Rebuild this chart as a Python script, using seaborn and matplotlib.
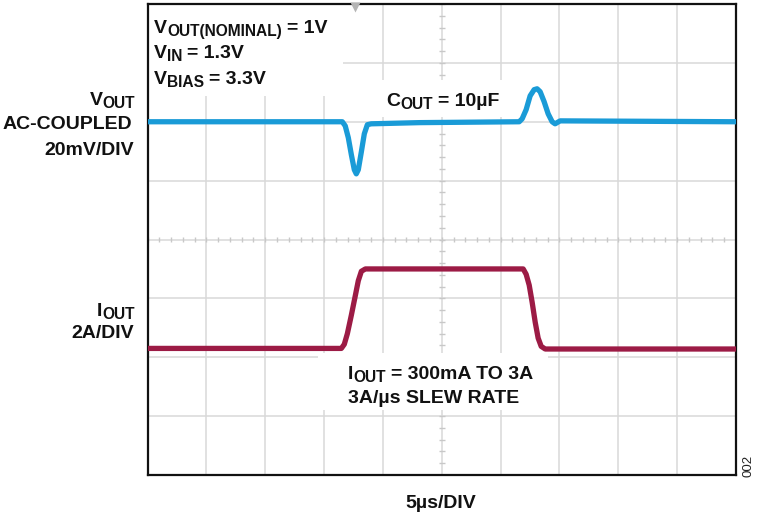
import numpy as np
import pandas as pd
import matplotlib
matplotlib.use("Agg")
import matplotlib.pyplot as plt
import matplotlib.transforms as mtransforms
from matplotlib.patches import Rectangle
import seaborn as sns

# ---------------- data ----------------
# V_OUT, AC coupled, in mV vs time in microseconds
vout_t_us = [-25.0, -8.45, -8.20, -7.94, -7.68, -7.43, -7.26, -7.09, -6.83, -6.58,
             -6.32, -5.99, -1.91, 6.58, 6.83, 7.17, 7.51, 7.85, 8.10, 8.36,
             8.70, 9.04, 9.38, 9.63, 10.06, 25.0]
vout_mv = [0.0, 0.0, -1.4, -5.4, -11.2, -16.3, -17.7, -16.3, -10.2, -4.1,
           -1.0, -0.7, -0.3, 0.0, 1.0, 4.1, 8.8, 10.9, 11.2, 10.2,
           6.8, 2.7, 0.0, -0.7, 0.3, 0.0]
# I_OUT in A vs time in microseconds
iout_t_us = [-25.0, -8.53, -8.28, -8.02, -7.68, -7.34, -7.09, -6.83, -6.49, -1.06,
             6.92, 7.17, 7.43, 7.68, 7.94, 8.19, 8.45, 8.79, 25.0]
iout_a = [0.30, 0.30, 0.44, 0.80, 1.43, 2.10, 2.60, 2.92, 3.00, 3.00,
          3.00, 2.82, 2.45, 1.87, 1.19, 0.65, 0.37, 0.28, 0.28]
trigger_t_us = -7.4

# scope settings
T_PER_DIV_US = 5
V_PER_DIV_MV = 20
I_PER_DIV_A = 2
V_ZERO_DIV = 6
I_ZERO_DIV = 2
N_XDIV, N_YDIV = 10, 8

BLUE = "#1a9bd7"
RED = "#9c1b45"

W, H = 760, 518

sns.set_theme(style="white")
plt.rcParams["font.family"] = ["Liberation Sans", "DejaVu Sans"]

fig = plt.figure(figsize=(W / 100, H / 100), dpi=100)
L, R, T, B = 147.5, 736.0, 4.0, 475.0
ax = fig.add_axes([L / W, (H - B) / H, (R - L) / W, (B - T) / H])

xmin = -N_XDIV / 2 * T_PER_DIV_US
xmax = N_XDIV / 2 * T_PER_DIV_US
ax.set_xlim(xmin, xmax)
ax.set_ylim(0, N_YDIV)

# grid
ax.set_xticks(np.arange(xmin, xmax + 0.1, T_PER_DIV_US))
ax.set_yticks(np.arange(0, N_YDIV + 1, 1))
ax.grid(True, color="#d9d9d9", lw=1.1, zorder=0)
ax.set_axisbelow(True)
ax.tick_params(length=0, labelbottom=False, labelleft=False)
for sp in ax.spines.values():
    sp.set_color("#111111")
    sp.set_linewidth(1.6)

# center-line minor ticks (0.2 div)
xs = np.arange(xmin, xmax + 0.01, T_PER_DIV_US / 5)
ax.vlines(xs, N_YDIV / 2 - 0.05, N_YDIV / 2 + 0.05, color="#c8c8c8", lw=1.0, zorder=1)
ys = np.arange(0, N_YDIV + 0.01, 0.2)
ax.hlines(ys, -0.26, 0.26, color="#c8c8c8", lw=1.0, zorder=1)

# white annotation backgrounds (data coords)
def px2t(px):
    return (px - L) / (R - L) * (xmax - xmin) + xmin

def py2d(py):
    return (B - py) / (B - T) * N_YDIV

for (x0, y0, x1, y1) in [(148, 4, 343, 96), (378, 80, 510, 117), (318, 353, 548, 410)]:
    ax.add_patch(Rectangle((px2t(x0), py2d(y1)), px2t(x1) - px2t(x0), py2d(y0) - py2d(y1),
                           facecolor="white", edgecolor="none", zorder=2))

# traces
df_v = pd.DataFrame({"t": vout_t_us, "div": V_ZERO_DIV + np.array(vout_mv) / V_PER_DIV_MV})
df_i = pd.DataFrame({"t": iout_t_us, "div": I_ZERO_DIV + np.array(iout_a) / I_PER_DIV_A})
sns.lineplot(data=df_v, x="t", y="div", ax=ax, color=BLUE, lw=3.8, sort=False,
             estimator=None, zorder=5)
sns.lineplot(data=df_i, x="t", y="div", ax=ax, color=RED, lw=3.8, sort=False,
             estimator=None, zorder=5)
ax.set_xlabel("")
ax.set_ylabel("")

# trigger marker
ax.plot([trigger_t_us], [N_YDIV - 0.045], marker="v", ms=7, color="#b5b5b5",
        mec="none", clip_on=False, zorder=6)

# ---------------- rich text helper ----------------
renderer = fig.canvas.get_renderer()
MAIN = 14
SUB = 11.2
SUBDY = 3
GAP = 5


def rich(x, yb, parts, ha="left", color="#111111"):
    arts = []
    cur = x
    for s, size, dy, gap in parts:
        cur += gap
        t = fig.text(cur, H - (yb + dy), s, transform=mtransforms.IdentityTransform(),
                     fontsize=size, fontweight="bold", ha="left", va="baseline",
                     color=color, zorder=10)
        w = t.get_window_extent(renderer).width
        arts.append(t)
        cur += w
    total = cur - x
    shift = {"left": 0, "right": total, "center": total / 2}[ha]
    for t in arts:
        px, py = t.get_position()
        t.set_position((px - shift, py))


# top-left conditions
rich(154, 33, [("V", MAIN, 0, 0), ("OUT(NOMINAL)", SUB, SUBDY, 0), ("= 1V", MAIN, 0, GAP)])
rich(154, 58, [("V", MAIN, 0, 0), ("IN", SUB, SUBDY, 0), ("= 1.3V", MAIN, 0, GAP)])
rich(154, 84, [("V", MAIN, 0, 0), ("BIAS", SUB, SUBDY, 0), ("= 3.3V", MAIN, 0, GAP)])
rich(386, 106, [("C", MAIN, 0, 0), ("OUT", SUB, SUBDY, 0), ("= 10µF", MAIN, 0, GAP)])
rich(348, 379, [("I", MAIN, 0, 0), ("OUT", SUB, SUBDY, 0), ("= 300mA TO 3A", MAIN, 0, GAP)])
rich(348, 403, [("3A/µs SLEW RATE", MAIN, 0, 0)])

# left channel labels
rich(135, 105, [("V", MAIN, 0, 0), ("OUT", SUB, SUBDY, 0)], ha="right")
rich(132, 129, [("AC-COUPLED", MAIN, 0, 0)], ha="right")
rich(134, 155, [("20mV/DIV", MAIN, 0, 0)], ha="right")
rich(135, 316, [("I", MAIN, 0, 0), ("OUT", SUB, SUBDY, 0)], ha="right")
rich(134, 338, [("2A/DIV", MAIN, 0, 0)], ha="right")

# time base label
rich(441, 508, [("5µs/DIV", MAIN, 0, 0)], ha="center")

# figure id
fig.text(749, H - 466, "002", transform=mtransforms.IdentityTransform(), fontsize=9.5,
         rotation=90, ha="center", va="center", color="#222222")

fig.savefig("out.png", dpi=100)
